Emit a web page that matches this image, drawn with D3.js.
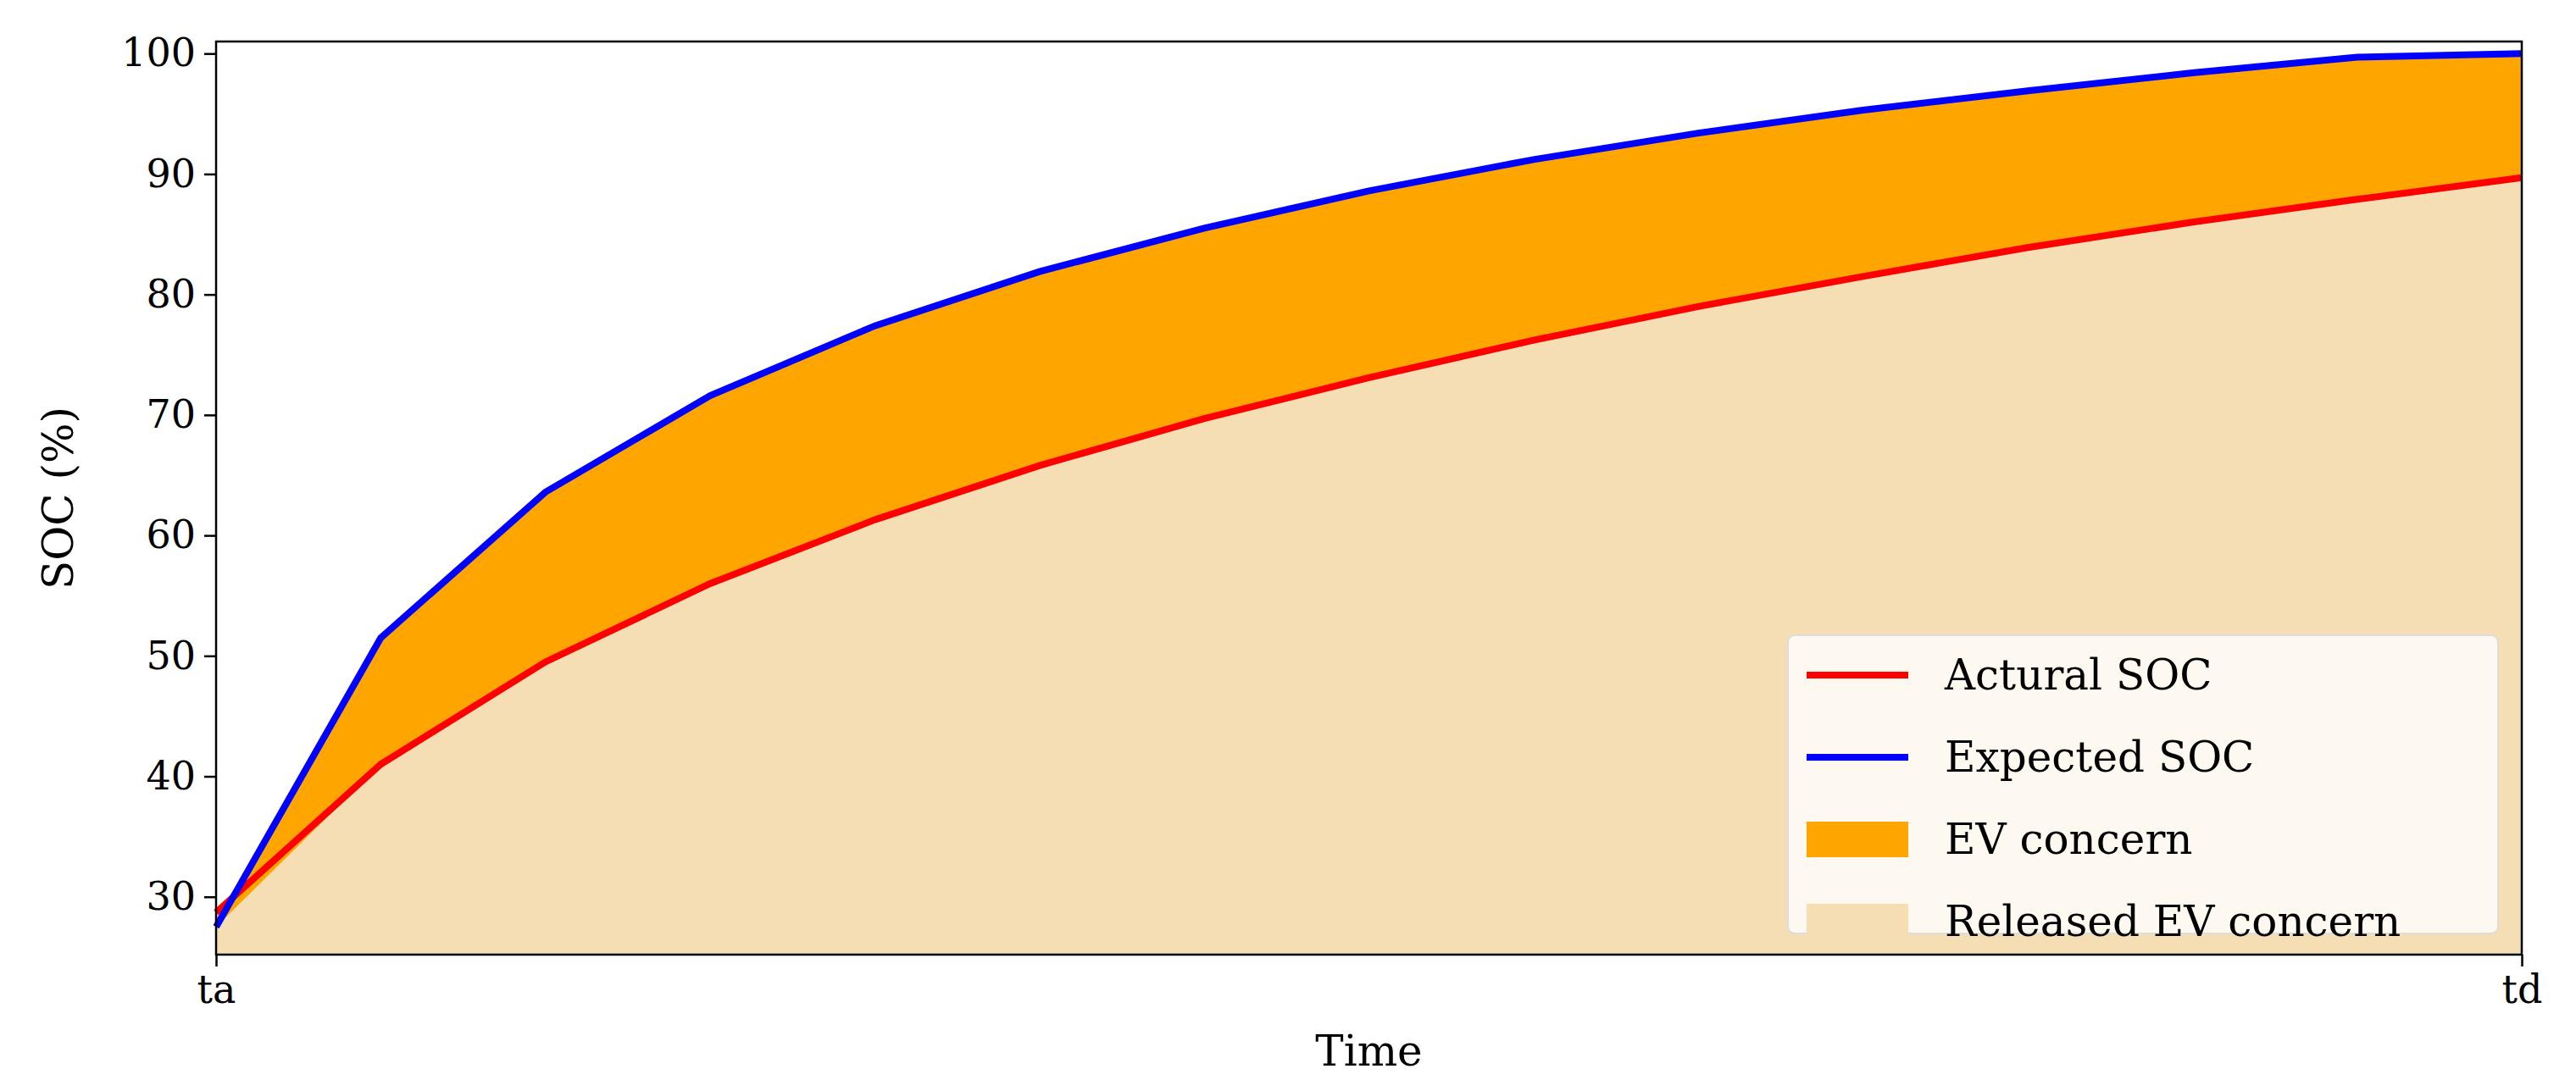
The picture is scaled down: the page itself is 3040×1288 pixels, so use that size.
<!DOCTYPE html>
<html>
<head>
<meta charset="utf-8">
<script src="https://cdn.jsdelivr.net/npm/d3@7"></script>
<style>
  body { margin: 0; background: #fff; }
  text { font-family: "DejaVu Serif", serif; fill: #000; }
</style>
</head>
<body>
<svg id="chart" width="3040" height="1288"></svg>
<script>
// data, 15 equally spaced time steps from ta to td
var steps = d3.range(15);
var actualSOC = [28.7, 41, 49.5, 56, 61.3, 65.8, 69.7, 73.1, 76.2, 79, 81.5, 83.9, 86, 87.9, 89.7];
var expectedSOC = [27.5, 51.5, 63.6, 71.6, 77.4, 81.9, 85.5, 88.6, 91.2, 93.4, 95.3, 96.9, 98.4, 99.7, 100];
var yTicks = [30, 40, 50, 60, 70, 80, 90, 100];
var xTickLabels = ['ta', 'td'];
var legendItems = [
  {label: 'Actural SOC', type: 'line', color: '#ff0000'},
  {label: 'Expected SOC', type: 'line', color: '#0000ff'},
  {label: 'EV concern', type: 'patch', color: '#ffa500'},
  {label: 'Released EV concern', type: 'patch', color: '#f5deb3'}
];

var margin = {left: 255, right: 64, top: 49, bottom: 161};
var W = 3040, H = 1288;
var svg = d3.select('#chart');

var x = d3.scaleLinear().domain([0, 14]).range([margin.left, W - margin.right]);
var y = d3.scaleLinear().domain([25.2, 101]).range([H - margin.bottom, margin.top]);

// released EV concern: below actual SOC
svg.append('path')
  .datum(steps)
  .attr('fill', '#f5deb3')
  .attr('d', d3.area().x(function(d) { return x(d); }).y0(y(25.2)).y1(function(d) { return y(actualSOC[d]); }));

// EV concern: between actual and expected
svg.append('path')
  .datum(steps)
  .attr('fill', '#ffa500')
  .attr('d', d3.area().x(function(d) { return x(d); })
    .y0(function(d) { return y(Math.min(actualSOC[d], expectedSOC[d])); })
    .y1(function(d) { return y(expectedSOC[d]); }));

var line = d3.line().x(function(d) { return x(d.i); }).y(function(d) { return y(d.v); });
svg.append('path')
  .datum(actualSOC.map(function(v, i) { return {i: i, v: v}; }))
  .attr('fill', 'none').attr('stroke', '#ff0000').attr('stroke-width', 8)
  .attr('d', line);
svg.append('path')
  .datum(expectedSOC.map(function(v, i) { return {i: i, v: v}; }))
  .attr('fill', 'none').attr('stroke', '#0000ff').attr('stroke-width', 8)
  .attr('d', line);

// frame
svg.append('rect')
  .attr('x', margin.left).attr('y', margin.top)
  .attr('width', W - margin.left - margin.right).attr('height', H - margin.top - margin.bottom)
  .attr('fill', 'none').attr('stroke', '#000').attr('stroke-width', 2.5);

// axes
var yAxis = svg.append('g')
  .attr('transform', 'translate(' + margin.left + ',0)')
  .call(d3.axisLeft(y).tickValues(yTicks).tickSize(14).tickPadding(10));
var xAxis = svg.append('g')
  .attr('transform', 'translate(0,' + (H - margin.bottom) + ')')
  .call(d3.axisBottom(x).tickValues([0, 14]).tickSize(14).tickPadding(10)
    .tickFormat(function(d, i) { return xTickLabels[i]; }));
[yAxis, xAxis].forEach(function(g) {
  g.select('.domain').remove();
  g.selectAll('.tick line').attr('stroke', '#000').attr('stroke-width', 2.5);
  g.selectAll('.tick text').attr('font-size', 46).attr('font-family', '"DejaVu Serif", serif').attr('fill', '#000');
});

svg.append('text')
  .attr('x', (margin.left + W - margin.right) / 2).attr('y', 1258)
  .attr('text-anchor', 'middle').attr('font-size', 50).text('Time');
svg.append('text')
  .attr('transform', 'translate(86,' + ((margin.top + H - margin.bottom) / 2) + ') rotate(-90)')
  .attr('text-anchor', 'middle').attr('font-size', 50).text('SOC (%)');

// legend
var lg = svg.append('g').attr('transform', 'translate(2110,750)');
lg.append('rect').attr('width', 838).attr('height', 352).attr('rx', 8)
  .attr('fill', '#fff').attr('fill-opacity', 0.8).attr('stroke', '#ddd').attr('stroke-width', 2);
legendItems.forEach(function(d, i) {
  var cy = 47 + i * 97;
  if (d.type === 'line') {
    lg.append('line').attr('x1', 22).attr('x2', 142).attr('y1', cy).attr('y2', cy)
      .attr('stroke', d.color).attr('stroke-width', 8);
  } else {
    lg.append('rect').attr('x', 22).attr('y', cy - 21).attr('width', 120).attr('height', 42).attr('fill', d.color);
  }
  lg.append('text').attr('x', 185).attr('y', cy + 17).attr('font-size', 50).text(d.label);
});
</script>
</body>
</html>
